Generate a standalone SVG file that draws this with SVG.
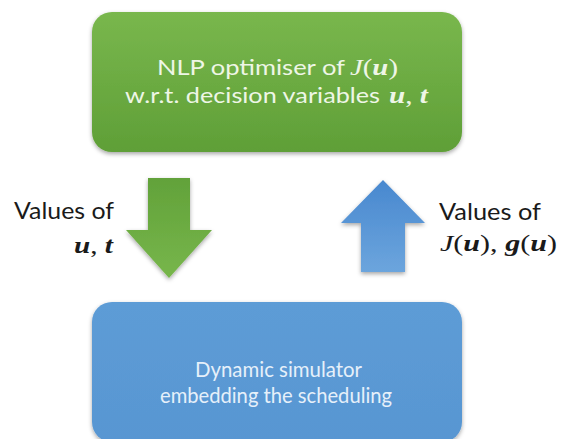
<svg xmlns="http://www.w3.org/2000/svg" width="564" height="439" viewBox="0 0 564 439">
  <defs>
    <linearGradient id="gradGreenBox" x1="0" y1="0" x2="0" y2="1">
      <stop offset="0" stop-color="#79b74d"/>
      <stop offset="1" stop-color="#5f9f37"/>
    </linearGradient>
    <linearGradient id="gradBlueBox" x1="0" y1="0" x2="0" y2="1">
      <stop offset="0" stop-color="#5d9cd6"/>
      <stop offset="1" stop-color="#5896d2"/>
    </linearGradient>
    <linearGradient id="gradGreenArrow" x1="0" y1="0" x2="0" y2="1">
      <stop offset="0" stop-color="#62a23a"/>
      <stop offset="1" stop-color="#77b64b"/>
    </linearGradient>
    <linearGradient id="gradBlueArrow" x1="0" y1="0" x2="0" y2="1">
      <stop offset="0" stop-color="#4888cf"/>
      <stop offset="1" stop-color="#6ca5dd"/>
    </linearGradient>
    <filter id="shadow" x="-10%" y="-10%" width="120%" height="130%">
      <feDropShadow dx="0" dy="2" stdDeviation="2" flood-color="#000" flood-opacity="0.35"/>
    </filter>
  </defs>
  <style>
    .sans { font-family: Lato, "Open Sans", sans-serif; }
    .green-text { fill: #eef6e6; }
    .blue-text { fill: #e6f0fa; }
    .dark { fill: #1a1a1a; }
    .math { font-family: "Liberation Serif", "DejaVu Serif", serif; font-size: 24px; }
    .mi { font-style: italic; }
    .mb { font-style: italic; font-weight: bold; }
  </style>

  <!-- optimiser node -->
  <g id="optimiser">
    <rect x="92" y="12" width="370" height="140" rx="20" ry="20" fill="url(#gradGreenBox)" filter="url(#shadow)"/>
    <text class="sans green-text" x="157" y="75" font-size="22" textLength="188" lengthAdjust="spacingAndGlyphs">NLP optimiser of</text>
    <text class="math green-text" x="350" y="75" textLength="48" lengthAdjust="spacingAndGlyphs"><tspan class="mi">J</tspan>(<tspan class="mb">u</tspan>)</text>
    <text class="sans green-text" x="125" y="103" font-size="22" textLength="255" lengthAdjust="spacingAndGlyphs">w.r.t. decision variables</text>
    <text class="math green-text" x="389" y="103" textLength="39" lengthAdjust="spacingAndGlyphs"><tspan class="mb">u</tspan>, <tspan class="mb">t</tspan></text>
  </g>

  <!-- simulator node -->
  <g id="simulator">
    <rect x="92" y="302" width="370" height="140" rx="20" ry="20" fill="url(#gradBlueBox)" filter="url(#shadow)"/>
    <text class="sans blue-text" x="195" y="377" font-size="22" textLength="167" lengthAdjust="spacingAndGlyphs">Dynamic simulator</text>
    <text class="sans blue-text" x="160" y="403" font-size="22" textLength="232" lengthAdjust="spacingAndGlyphs">embedding the scheduling</text>
  </g>

  <!-- connectors: block arrows between the two nodes -->
  <g id="connectors">
    <path d="M148,178 H190 V230 H212 L169,278 L126,230 H148 Z" fill="url(#gradGreenArrow)" filter="url(#shadow)"/>
    <path d="M383,180 L425,223 H405 V272 H361 V223 H341 Z" fill="url(#gradBlueArrow)" filter="url(#shadow)"/>
  </g>

  <!-- connector labels -->
  <g id="label-down">
    <text class="sans dark" x="14" y="219" font-size="24" textLength="100" lengthAdjust="spacingAndGlyphs">Values of</text>
    <text class="math dark" x="74" y="253" font-size="27" textLength="39" lengthAdjust="spacingAndGlyphs"><tspan class="mb">u</tspan>, <tspan class="mb">t</tspan></text>
  </g>
  <g id="label-up">
    <text class="sans dark" x="439" y="220" font-size="24" textLength="102" lengthAdjust="spacingAndGlyphs">Values of</text>
    <text class="math dark" x="440" y="251" font-size="27" textLength="117" lengthAdjust="spacingAndGlyphs"><tspan class="mi">J</tspan>(<tspan class="mb">u</tspan>), <tspan class="mb">g</tspan>(<tspan class="mb">u</tspan>)</text>
  </g>
</svg>
